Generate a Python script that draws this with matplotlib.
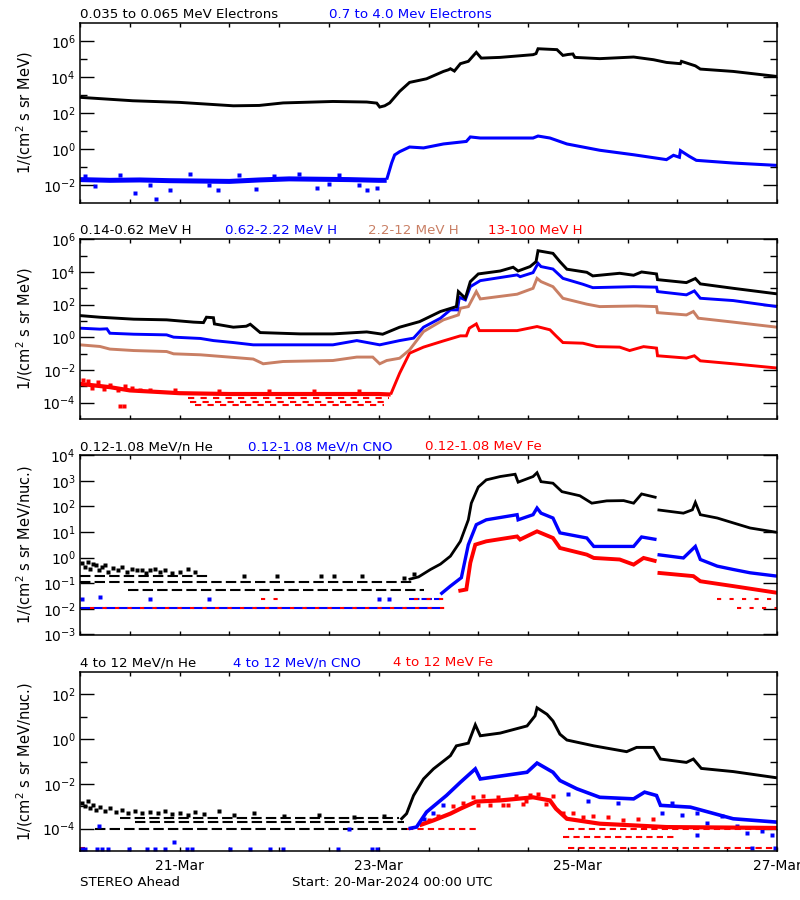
import numpy as np
import matplotlib
matplotlib.use("Agg")
import matplotlib.pyplot as plt
from matplotlib.ticker import FixedLocator, FuncFormatter, NullFormatter

plt.rcParams['font.family'] = ['DejaVu Sans']
plt.rcParams['mathtext.fontset'] = 'dejavusans'

BLUE = '#0000ff'
RED = '#ff0000'
TAN = '#c97f64'

# time axis: days since 20-Mar-2024 00:00 UTC
day_ticks = [0, 0.5, 1, 1.5, 2, 2.5, 3, 3.5, 4, 4.5, 5, 5.5, 6, 6.5, 7]
day_labels = {1: '21-Mar', 3: '23-Mar', 5: '25-Mar', 7: '27-Mar'}

# ---------------- panel 1: electrons (log10 flux) ----------------
e_lo_t = [0, 0.53, 1.0, 1.54, 1.8, 2.04, 2.54, 2.88, 2.98, 3.01, 3.06, 3.11, 3.21, 3.31,
          3.48, 3.65, 3.70, 3.72, 3.76, 3.82, 3.90, 3.98, 4.03, 4.22, 4.55, 4.58, 4.60,
          4.79, 4.85, 4.90, 4.95, 4.97, 5.22, 5.56, 5.76, 5.89, 6.03, 6.04, 6.18, 6.23,
          6.56, 7.0]
e_lo_v = [2.87, 2.68, 2.59, 2.40, 2.42, 2.56, 2.64, 2.61, 2.55, 2.33, 2.40, 2.56, 3.20,
          3.70, 3.90, 4.31, 4.40, 4.46, 4.33, 4.74, 4.87, 5.37, 5.05, 5.09, 5.24, 5.30,
          5.57, 5.52, 5.20, 5.25, 5.28, 5.09, 5.02, 5.11, 4.96, 4.81, 4.74, 4.87, 4.62,
          4.44, 4.31, 4.03]

e_hi_quiet_t = [0, 0.3, 0.6, 0.9, 1.2, 1.5, 1.8, 2.1, 2.4, 2.7, 3.0, 3.08]
e_hi_quiet_v = [-1.70, -1.74, -1.72, -1.76, -1.78, -1.80, -1.72, -1.66, -1.68, -1.70, -1.74, -1.74]
e_hi_out_t = [0.15, 0.55, 0.76, 0.90, 1.10, 1.39, 1.77, 2.38, 2.88, 2.98, 0.40, 1.60, 2.20,
              2.60, 0.05, 0.70, 1.30, 1.95, 2.50, 2.80]
e_hi_out_v = [-2.07, -2.44, -2.78, -2.29, -1.37, -2.27, -2.22, -2.16, -2.27, -2.14, -1.42,
              -1.45, -1.40, -1.45, -1.50, -2.00, -2.02, -1.48, -1.95, -2.00]
e_hi_t = [3.08, 3.10, 3.13, 3.16, 3.21, 3.31, 3.45, 3.65, 3.88, 3.92, 4.02, 4.55, 4.60,
          4.72, 4.89, 5.22, 5.56, 5.89, 5.96, 6.02, 6.03, 6.12, 6.19, 6.56, 7.0]
e_hi_v = [-1.70, -1.33, -0.77, -0.33, -0.15, 0.11, 0.06, 0.28, 0.42, 0.67, 0.61, 0.61,
          0.72, 0.61, 0.28, -0.07, -0.32, -0.59, -0.35, -0.46, -0.09, -0.41, -0.63,
          -0.78, -0.91]

# ---------------- panel 2: protons ----------------
h1_t = [0, 0.2, 0.54, 0.87, 1.14, 1.24, 1.27, 1.34, 1.35, 1.54, 1.67, 1.71, 1.81, 2.21,
        2.54, 2.88, 3.04, 3.21, 3.41, 3.62, 3.78, 3.80, 3.87, 3.92, 4.0, 4.22, 4.35, 4.40,
        4.52, 4.58, 4.60, 4.75, 4.82, 4.89, 5.09, 5.15, 5.42, 5.56, 5.64, 5.79, 5.80,
        6.09, 6.18, 6.23, 6.56, 7.0]
h1_v = [1.33, 1.23, 1.11, 1.07, 0.93, 0.90, 1.23, 1.20, 0.82, 0.62, 0.68, 0.80, 0.29,
        0.21, 0.21, 0.33, 0.19, 0.62, 0.96, 1.58, 1.88, 2.80, 2.39, 3.41, 3.88, 4.06,
        4.29, 4.06, 4.33, 4.63, 5.30, 5.14, 4.63, 4.17, 3.98, 3.76, 3.92, 3.80, 4.00,
        3.88, 3.53, 3.35, 3.60, 3.27, 3.00, 2.66]

h2_t = [0, 0.2, 0.27, 0.30, 0.54, 0.87, 0.94, 1.21, 1.34, 1.54, 1.74, 2.21, 2.54, 2.78,
        3.01, 3.21, 3.35, 3.45, 3.62, 3.72, 3.79, 3.81, 3.87, 3.92, 4.02, 4.39, 4.42,
        4.55, 4.60, 4.63, 4.75, 4.85, 5.05, 5.15, 5.56, 5.79, 5.80, 6.09, 6.17, 6.23,
        6.56, 7.0]
h2_v = [0.56, 0.50, 0.52, 0.25, 0.19, 0.15, 0.01, -0.07, -0.20, -0.32, -0.46, -0.46,
        -0.46, -0.20, -0.46, -0.20, -0.05, 0.62, 1.17, 1.68, 1.68, 2.45, 2.29, 3.10,
        3.47, 3.82, 3.71, 3.96, 4.53, 4.33, 4.18, 3.61, 3.25, 3.04, 3.10, 3.07, 2.80,
        2.60, 2.84, 2.39, 2.25, 1.88]

h3_t = [0, 0.2, 0.3, 0.54, 0.87, 0.94, 1.21, 1.54, 1.74, 1.84, 2.04, 2.54, 2.78, 2.94,
        3.01, 3.08, 3.21, 3.31, 3.45, 3.65, 3.80, 3.82, 3.90, 3.98, 4.02, 4.39, 4.55,
        4.59, 4.63, 4.75, 4.85, 5.09, 5.22, 5.59, 5.79, 5.80, 6.09, 6.16, 6.21, 6.56, 7.0]
h3_v = [-0.46, -0.56, -0.72, -0.81, -0.87, -1.01, -1.07, -1.23, -1.33, -1.62, -1.48,
        -1.42, -1.21, -1.21, -1.62, -1.42, -1.28, -0.77, 0.35, 1.07, 1.37, 1.78, 1.88,
        2.80, 2.35, 2.64, 3.00, 3.61, 3.41, 3.10, 2.39, 2.03, 1.88, 1.92, 1.88, 1.51,
        1.37, 1.58, 1.17, 0.93, 0.62]

h4_quiet_t = [0, 0.15, 0.3, 0.5, 0.8, 1.0, 1.5, 2.0, 2.5, 3.0, 3.12]
h4_quiet_v = [-2.85, -2.95, -3.05, -3.25, -3.35, -3.42, -3.47, -3.47, -3.47, -3.47, -3.50]
h4_cloud_t = [0.03, 0.08, 0.12, 0.18, 0.24, 0.30, 0.38, 0.45, 0.52, 0.60, 0.70, 0.40, 0.44,
              0.95, 1.40, 1.90, 2.35, 2.80]
h4_cloud_v = [-2.62, -2.70, -3.10, -2.75, -3.15, -2.90, -3.20, -3.00, -3.10, -3.20, -3.25,
              -4.20, -4.20, -3.25, -3.30, -3.30, -3.30, -3.30]
h4_rows = [(-3.72, 1.08, 3.10), (-3.93, 1.10, 3.10), (-4.13, 1.15, 3.05)]
h4_t = [3.12, 3.21, 3.31, 3.45, 3.65, 3.82, 3.88, 3.91, 3.98, 4.01, 4.39, 4.59, 4.72,
        4.78, 4.85, 5.05, 5.19, 5.42, 5.52, 5.66, 5.79, 5.80, 6.09, 6.17, 6.23, 6.56, 7.0]
h4_v = [-3.50, -2.20, -0.97, -0.60, -0.22, 0.09, 0.09, 0.56, 0.82, 0.41, 0.41, 0.66,
        0.46, 0.09, -0.32, -0.36, -0.57, -0.60, -0.81, -0.57, -0.66, -1.13, -1.27,
        -1.13, -1.44, -1.62, -1.88]

# ---------------- panel 3: 0.12-1.08 MeV/n ions ----------------
he_lo_cloud_t = [0.02, 0.05, 0.08, 0.10, 0.13, 0.16, 0.19, 0.22, 0.25, 0.28, 0.33, 0.38,
                 0.42, 0.47, 0.52, 0.57, 0.62, 0.66, 0.70, 0.75, 0.80, 0.85, 0.92, 1.00,
                 1.08, 1.15, 1.65, 1.98, 2.42, 2.55, 2.83, 3.25, 3.35]
he_lo_cloud_v = [-0.20, -0.35, -0.15, -0.45, -0.25, -0.30, -0.50, -0.38, -0.28, -0.55,
                 -0.42, -0.50, -0.38, -0.55, -0.45, -0.50, -0.48, -0.58, -0.50, -0.45,
                 -0.55, -0.50, -0.58, -0.55, -0.45, -0.55, -0.72, -0.70, -0.72, -0.72,
                 -0.72, -0.80, -0.62]
he_lo_rows = [(-0.72, 0.0, 1.30), (-0.955, 0.0, 3.35), (-1.27, 0.48, 3.45)]
he_lo_t = [3.30, 3.40, 3.52, 3.62, 3.72, 3.82, 3.90, 3.93, 4.0, 4.08, 4.22, 4.37, 4.40,
           4.55, 4.59, 4.63, 4.75, 4.84, 5.02, 5.14, 5.29, 5.46, 5.56, 5.64, 5.79, np.nan,
           5.80, 6.06, 6.15, 6.18, 6.23, 6.40, 6.56, 6.73, 7.0]
he_lo_v = [-0.85, -0.75, -0.46, -0.25, 0.06, 0.64, 1.48, 2.13, 2.76, 3.04, 3.17, 3.26,
           2.95, 3.17, 3.32, 2.97, 2.91, 2.58, 2.42, 2.13, 2.22, 2.23, 2.13, 2.49, 2.35,
           np.nan, 1.87, 1.74, 1.87, 2.16, 1.68, 1.55, 1.36, 1.16, 0.99]

cno_lo_rows = [(-1.95, 0.0, 3.62), (-1.63, 3.30, 3.62)]
cno_lo_dots_t = [0.02, 0.20, 0.70, 1.30, 3.00, 3.10]
cno_lo_dots_v = [-1.63, -1.55, -1.63, -1.63, -1.63, -1.63]
cno_lo_t = [3.62, 3.72, 3.83, 3.90, 3.98, 4.08, 4.39, 4.40, 4.55, 4.59, 4.63, 4.75, 4.82,
            5.09, 5.16, 5.56, 5.64, 5.79, np.nan, 5.80, 6.06, 6.18, 6.23, 6.40, 6.56,
            6.73, 7.0]
cno_lo_v = [-1.43, -1.11, -0.78, 0.51, 1.29, 1.48, 1.68, 1.48, 1.68, 1.94, 1.74, 1.55,
            0.97, 0.77, 0.44, 0.44, 0.81, 0.71, np.nan, 0.12, -0.01, 0.44, -0.07, -0.33,
            -0.46, -0.59, -0.72]

fe_lo_rows = [(-1.95, 0.1, 3.70), (-1.63, 1.82, 2.00), (-1.63, 3.35, 3.70),
              (-1.63, 6.40, 7.0), (-1.95, 6.60, 7.0)]
fe_lo_t = [3.80, 3.88, 3.92, 3.97, 4.08, 4.39, 4.42, 4.59, 4.75, 4.82, 5.09, 5.16, 5.42,
           5.56, 5.66, 5.79, np.nan, 5.80, 6.16, 6.23, 6.56, 7.0]
fe_lo_v = [-1.30, -1.24, -0.20, 0.51, 0.64, 0.83, 0.71, 1.03, 0.77, 0.38, 0.12, -0.01,
           -0.07, -0.27, -0.01, -0.14, np.nan, -0.59, -0.72, -0.92, -1.11, -1.37]

# ---------------- panel 4: 4-12 MeV/n ions ----------------
he_hi_cloud_t = [0.02, 0.05, 0.08, 0.10, 0.13, 0.16, 0.20, 0.25, 0.30, 0.36, 0.42, 0.48,
                 0.55, 0.62, 0.70, 0.78, 0.85, 0.92, 1.00, 1.08, 1.15, 1.25, 1.40, 1.55,
                 1.75, 2.05, 2.40, 2.75, 3.05]
he_hi_cloud_v = [-2.85, -3.00, -2.78, -3.10, -2.95, -3.15, -3.05, -3.20, -3.10, -3.25,
                 -3.15, -3.30, -3.20, -3.30, -3.25, -3.30, -3.20, -3.35, -3.30, -3.40,
                 -3.25, -3.35, -3.20, -3.40, -3.30, -3.45, -3.40, -3.50, -3.45]
he_hi_rows = [(-3.53, 0.40, 3.20), (-3.72, 0.55, 3.25), (-4.0, 0.15, 3.28)]
he_hi_t = [3.22, 3.28, 3.35, 3.45, 3.55, 3.72, 3.78, 3.90, 3.97, 4.02, 4.22, 4.49, 4.57,
           4.59, 4.69, 4.75, 4.82, 4.89, 5.16, 5.49, 5.59, 5.76, 5.83, 6.09, 6.16, 6.24,
           6.56, 7.0]
he_hi_v = [-3.60, -3.33, -2.52, -1.78, -1.33, -0.74, -0.30, -0.18, 0.64, 0.15, 0.27,
           0.59, 1.04, 1.40, 1.11, 0.81, 0.22, -0.04, -0.30, -0.56, -0.37, -0.37, -0.89,
           -1.04, -0.89, -1.31, -1.45, -1.73]

cno_hi_dots_t = [0.02, 0.05, 0.17, 0.22, 0.28, 0.49, 0.67, 0.75, 0.85, 0.94, 1.07, 1.12,
                 1.51, 1.71, 1.91, 2.04, 2.59, 2.93, 2.98, 0.19, 2.70]
cno_hi_dots_v = [-4.89, -4.89, -4.89, -4.89, -4.89, -4.89, -4.89, -4.89, -4.89, -4.60,
                 -4.89, -4.89, -4.89, -4.89, -4.89, -4.89, -4.89, -4.89, -4.89, -3.90,
                 -4.0]
cno_hi_t = [3.30, 3.38, 3.48, 3.68, 3.82, 3.97, 4.02, 4.49, 4.59, 4.75, 4.82, 4.99, 5.22,
            5.56, 5.67, 5.79, 5.83, 6.13, 6.56, 7.0]
cno_hi_v = [-4.0, -3.93, -3.26, -2.52, -1.93, -1.33, -1.78, -1.48, -1.07, -1.48, -1.85,
            -2.22, -2.60, -2.67, -2.37, -2.52, -2.96, -3.04, -3.56, -3.71]
cno_hi_tail_t = [5.85, 5.95, 6.05, 6.20, 6.30, 6.45, 6.60, 6.70, 6.85, 6.95, 6.20, 6.75,
                 6.98, 3.45, 3.55, 3.65, 4.90, 5.10, 5.40]
cno_hi_tail_v = [-3.30, -2.85, -3.40, -3.30, -3.75, -3.45, -3.90, -4.20, -4.10, -4.30,
                 -4.30, -4.85, -4.85, -3.55, -3.30, -2.95, -2.45, -2.75, -2.85]

fe_hi_rows = [(-4.0, 3.28, 4.00), (-4.86, 4.90, 7.0), (-4.37, 4.85, 6.00),
              (-4.0, 4.90, 7.0), (-4.86, 0.0, 0.05)]
fe_hi_cloud_t = [3.50, 3.60, 3.75, 3.85, 3.95, 4.05, 4.12, 4.20, 4.30, 4.38, 4.45, 4.52,
                 4.60, 4.68, 4.75, 4.85, 4.95, 5.05, 5.15, 5.30, 5.45, 5.60, 5.75, 4.00,
                 4.25, 4.48]
fe_hi_cloud_v = [-3.60, -3.45, -3.00, -2.85, -2.60, -2.55, -2.95, -2.60, -2.95, -2.55,
                 -2.90, -2.50, -2.45, -2.90, -2.55, -3.30, -3.30, -3.50, -3.45, -3.50,
                 -3.60, -3.55, -3.55, -2.95, -2.95, -2.75]
fe_hi_t = [3.41, 3.55, 3.72, 3.82, 3.98, 4.22, 4.55, 4.72, 4.78, 4.89, 5.22, 5.89, 7.0]
fe_hi_v = [-3.85, -3.63, -3.33, -3.11, -2.79, -2.74, -2.60, -2.74, -3.11, -3.56, -3.78,
           -3.93, -3.97]


def lg(v):
    return 10.0 ** np.asarray(v, dtype=float)


def draw(ax, t, v, color, lw=2.0):
    ax.plot(t, lg(v), color=color, lw=lw, solid_capstyle='butt', solid_joinstyle='miter')


def dots(ax, t, v, color, size=2.2):
    ax.plot(t, lg(v), ls='none', marker='s', ms=size, mec='none', mfc=color)


def rows(ax, levels, color, dash=(4, 2)):
    for lev, t0, t1 in levels:
        ax.plot([t0, t1], [10.0 ** lev] * 2, color=color, lw=1.5, ls=(0, dash))


def style_axes(ax, ylo, yhi, major, minor, last=False):
    ax.set_xlim(0, 7)
    ax.set_yscale('log')
    ax.set_ylim(10.0 ** ylo, 10.0 ** yhi)
    ax.yaxis.set_major_locator(FixedLocator([10.0 ** e for e in major]))
    ax.yaxis.set_minor_locator(FixedLocator([10.0 ** e for e in minor]))
    ax.yaxis.set_major_formatter(FuncFormatter(lambda y, p: r'$10^{%d}$' % round(np.log10(y))))
    ax.yaxis.set_minor_formatter(NullFormatter())
    ax.xaxis.set_major_locator(FixedLocator(day_ticks))
    if last:
        ax.set_xticklabels([day_labels.get(d, '') for d in day_ticks])
    else:
        ax.set_xticklabels([])
    ax.tick_params(axis='y', which='major', direction='in', length=10, width=1,
                   left=True, right=True, labelsize=10, pad=3)
    ax.tick_params(axis='y', which='minor', direction='in', length=5, width=1,
                   left=True, right=True)
    ax.tick_params(axis='x', which='major', direction='in', length=3, width=1,
                   top=True, bottom=True, labelsize=10, pad=6)
    for s in ax.spines.values():
        s.set_linewidth(1.1)
    ax.yaxis.set_label_coords(-0.065, 0.5)


fig = plt.figure(figsize=(8, 9), dpi=100)
W, H = 800.0, 900.0


def add_axes(top, bottom):
    return fig.add_axes([80 / W, 1 - bottom / H, 697 / W, (bottom - top) / H])


def heading(y, parts):
    for x, s, c in parts:
        fig.text(x / W, 1 - y / H, s, color=c, fontsize=9.6, va='baseline', ha='left')


# panel 1
ax1 = add_axes(23, 203)
draw(ax1, e_lo_t, e_lo_v, 'k', 2.1)
draw(ax1, e_hi_quiet_t, e_hi_quiet_v, BLUE, 3.6)
dots(ax1, e_hi_out_t, e_hi_out_v, BLUE)
draw(ax1, e_hi_t, e_hi_v, BLUE, 2.2)
style_axes(ax1, -3, 7, [-2, 0, 2, 4, 6], [-1, 1, 3, 5])
ax1.set_ylabel(r'1/(cm$^2$ s sr MeV)', fontsize=10.5)
heading(18, [(80, '0.035 to 0.065 MeV Electrons', 'k'),
             (329, '0.7 to 4.0 Mev Electrons', BLUE)])

# panel 2
ax2 = add_axes(239.3, 419)
draw(ax2, h4_quiet_t, h4_quiet_v, RED, 3.0)
dots(ax2, h4_cloud_t, h4_cloud_v, RED)
rows(ax2, h4_rows, RED, (3, 3))
draw(ax2, h4_t, h4_v, RED, 2.1)
draw(ax2, h3_t, h3_v, TAN, 2.1)
draw(ax2, h2_t, h2_v, BLUE, 2.1)
draw(ax2, h1_t, h1_v, 'k', 2.1)
style_axes(ax2, -5, 6, [-4, -2, 0, 2, 4, 6], [-3, -1, 1, 3, 5])
ax2.set_ylabel(r'1/(cm$^2$ s sr MeV)', fontsize=10.5)
heading(234, [(80, '0.14-0.62 MeV H', 'k'), (225, '0.62-2.22 MeV H', BLUE),
              (368, '2.2-12 MeV H', TAN), (488, '13-100 MeV H', RED)])

# panel 3
ax3 = add_axes(455.3, 634.5)
rows(ax3, cno_lo_rows, BLUE, (5, 1))
dots(ax3, cno_lo_dots_t, cno_lo_dots_v, BLUE)
rows(ax3, fe_lo_rows, RED, (2, 4))
rows(ax3, he_lo_rows, 'k', (5, 2))
dots(ax3, he_lo_cloud_t, he_lo_cloud_v, 'k')
draw(ax3, fe_lo_t, fe_lo_v, RED, 2.8)
draw(ax3, cno_lo_t, cno_lo_v, BLUE, 2.4)
draw(ax3, he_lo_t, he_lo_v, 'k', 2.0)
style_axes(ax3, -3, 4, [-3, -2, -1, 0, 1, 2, 3, 4], [])
ax3.set_ylabel(r'1/(cm$^2$ s sr MeV/nuc.)', fontsize=10.5)
heading(450, [(80, '0.12-1.08 MeV/n He', 'k'), (248, '0.12-1.08 MeV/n CNO', BLUE),
              (425, '0.12-1.08 MeV Fe', RED)])

# panel 4
ax4 = add_axes(672, 851)
rows(ax4, he_hi_rows, 'k', (5, 2))
dots(ax4, he_hi_cloud_t, he_hi_cloud_v, 'k')
rows(ax4, fe_hi_rows, RED, (3, 2))
dots(ax4, fe_hi_cloud_t, fe_hi_cloud_v, RED)
dots(ax4, cno_hi_dots_t, cno_hi_dots_v, BLUE)
dots(ax4, cno_hi_tail_t, cno_hi_tail_v, BLUE)
draw(ax4, fe_hi_t, fe_hi_v, RED, 3.0)
draw(ax4, cno_hi_t, cno_hi_v, BLUE, 2.6)
draw(ax4, he_hi_t, he_hi_v, 'k', 2.1)
style_axes(ax4, -5, 3, [-4, -2, 0, 2], [-3, -1, 1], last=True)
ax4.set_ylabel(r'1/(cm$^2$ s sr MeV/nuc.)', fontsize=10.5)
heading(666, [(80, '4 to 12 MeV/n He', 'k'), (233, '4 to 12 MeV/n CNO', BLUE),
              (393, '4 to 12 MeV Fe', RED)])

fig.text(80 / W, 1 - 886 / H, 'STEREO Ahead', fontsize=9.6, va='baseline')
fig.text(292 / W, 1 - 886 / H, 'Start: 20-Mar-2024 00:00 UTC', fontsize=9.6, va='baseline')

fig.savefig('out.png', dpi=100)
